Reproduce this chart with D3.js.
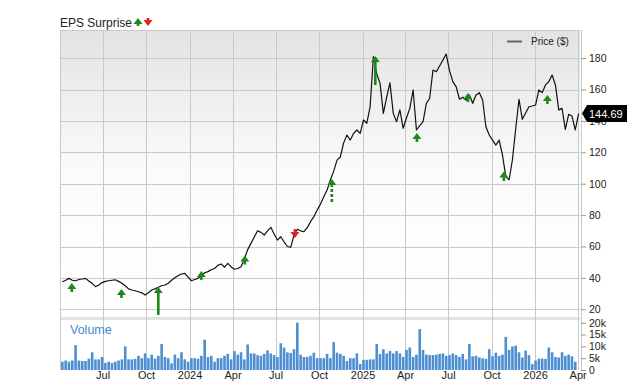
<!DOCTYPE html>
<html>
<head>
<meta charset="utf-8">
<script src="https://cdn.jsdelivr.net/npm/d3@7"></script>
<style>
  body { margin: 0; background: #fff; }
  svg { display: block; font-family: "Liberation Sans", Arial, sans-serif; }
</style>
</head>
<body>
<svg id="frame" width="640" height="382"></svg>
<script>
// weekly closes, first week ending 2023-04-07
const priceStart = "2023-04-07";
const prices = [
  37.5, 38.5, 39.7, 38.5, 38.2, 39, 39.3, 39.7, 38, 36.5, 34.4, 35.5, 37,
  37.8, 38.2, 38.5, 38.8, 37.8, 36.6, 35, 33, 32.3, 31.8, 31.2, 30.5, 29.1,
  30.5, 32.3, 33, 34, 35, 35.5, 36.6, 38.5, 40.1, 41.5, 42.5, 42.9, 40.5,
  38.2, 39, 39.7, 41.5, 43.3, 44, 45.2, 46, 48, 48.9, 46.8, 49.3, 47,
  45.5, 46, 47.1, 52, 58, 62, 66, 70, 69, 67.3, 70, 72.2, 68,
  64.1, 66.2, 63, 60, 59.5, 67.3, 71, 70, 69.4, 72, 75.8, 79, 83.2,
  87, 91.7, 96, 102.4, 108, 115, 117, 126, 131, 127.8, 132, 134.2, 132.1,
  140.6, 138.5, 149, 181, 170, 163.9, 144.8, 155, 164.3, 144.8, 139.5, 147, 135.3,
  142, 148, 159.7, 134.2, 137, 139.5, 151.2, 154.4, 172.4, 171.3, 175, 178.8, 182.6,
  172, 165, 161.8, 153.8, 155.1, 153.3, 156.5, 151.2, 156.5, 158, 153.3, 136.3, 131,
  127.8, 124.6, 127.8, 118.3, 104.5, 102.4, 115.1, 135, 153.8, 141, 145, 149, 149.5,
  150.1, 159.7, 158, 162.9, 165, 169.2, 162.9, 147, 148, 134.6, 144.2, 143.1, 134.2,
  144.69
];

// weekly volume, thousands
const volumeStart = "2023-04-07";
const volumes = [
  3.5, 4, 3.5, 4, 10.5, 4, 3.8, 3.8, 4.8, 7.5, 4.5, 4.5, 5.5,
  3, 3.5, 3, 3.5, 4, 4.5, 10, 4.5, 4.5, 4.7, 6, 5, 7,
  5, 6.5, 4.8, 6, 11, 5.5, 5, 2.8, 6.5, 5, 7.5, 4.5, 3.5,
  5, 5, 4.8, 6, 12.8, 5.5, 6, 3.5, 5, 5, 6, 6.8, 4.5,
  8, 6.5, 7.5, 4.5, 10.8, 7, 7, 6.3, 6, 6.8, 8.3, 7, 6.3,
  5.5, 11.3, 9.5, 7.5, 7.2, 8.8, 20, 6.5, 5.5, 5.5, 6, 7.3, 5,
  5, 5, 6.8, 5, 11.8, 7.3, 6.8, 6, 3.8, 5, 5, 7, 2.5,
  4.3, 4.3, 4.5, 4.5, 11, 6.8, 8.8, 7, 8, 7, 8, 7, 5.5,
  8.5, 9.5, 5.5, 6.5, 17.3, 8.5, 6.5, 6.3, 6.3, 6.5, 6.8, 7, 6,
  6.3, 7, 6.3, 5.5, 6.8, 4.5, 11, 5.8, 6, 5.3, 5, 4.7, 8.8,
  5.8, 7.3, 6, 6.5, 14, 8.5, 10, 10.3, 7.5, 5.3, 8.2, 6.3, 2.5,
  4, 4.8, 4.8, 4.7, 9.5, 7.5, 5.5, 5.3, 7.5, 6, 6.5, 5.8, 3.5
];

// EPS surprises: arrow tip and tail in price units
const surpriseDates = ["2023-04-27", "2023-08-10", "2023-10-27", "2024-01-26", "2024-04-27", "2024-08-11",
  "2024-10-28", "2025-01-28", "2025-04-26", "2025-08-12", "2025-10-27", "2026-01-27"];
const surpriseTip  = [36.8, 32.9, 34.2, 44.4, 54.3, 65.4, 103, 181.3, 132.3, 157.8, 107.8, 156.5];
const surpriseTail = [31.0, 27.2, 16.4, 38.7, 48.5, 71.1, 88.4, 162.8, 126.6, 152, 101.7, 150.8];
const surpriseType = ["up", "up", "up", "up", "up", "down", "up", "up", "up", "up", "up", "up"];
const surpriseDashed = [false, false, false, false, false, false, true, false, false, false, false, false];

const priceTicks = [20, 40, 60, 80, 100, 120, 140, 160, 180];
const volumeTicks = [0, 5, 10, 15, 20];
const lastPrice = 144.69;

const config = { left: 60, right: 580, priceTop: 30, priceBottom: 317, volTop: 320, volBottom: 370 };

const parse = d3.utcParse("%Y-%m-%d");
const day = 864e5;
const priceData = prices.map((p, i) => ({ date: new Date(+parse(priceStart) + i * 7 * day), price: p }));
const volumeData = volumes.map((v, i) => ({ date: new Date(+parse(volumeStart) + i * 7 * day), vol: v }));
const surprises = surpriseDates.map((d, i) => ({
  date: parse(d), tip: surpriseTip[i], tail: surpriseTail[i], type: surpriseType[i], dashed: surpriseDashed[i]
}));

const x = d3.scaleUtc()
  .domain([parse("2023-04-02"), parse("2026-04-06")])
  .range([config.left, config.right]);
const y = d3.scaleLinear().domain([20, 180]).range([309.3, 58.1]);
const yv = d3.scaleLinear().domain([0, 20]).range([config.volBottom, 322.7]);

const svg = d3.select("#frame");

// background gradient of the price panel
const grad = svg.append("defs").append("linearGradient")
  .attr("id", "bg").attr("x1", 0).attr("x2", 0).attr("y1", 0).attr("y2", 1);
grad.append("stop").attr("offset", 0).attr("stop-color", "#e3e3e3");
grad.append("stop").attr("offset", 0.5).attr("stop-color", "#fbfbfb");
grad.append("stop").attr("offset", 1).attr("stop-color", "#ffffff");

svg.append("rect")
  .attr("x", config.left).attr("y", config.priceTop)
  .attr("width", config.right - config.left).attr("height", config.priceBottom - config.priceTop)
  .attr("fill", "url(#bg)");

// separator band
svg.append("rect")
  .attr("x", config.left).attr("y", config.priceBottom)
  .attr("width", config.right - config.left).attr("height", 3)
  .attr("fill", "#e2e2e2");

const quarterTicks = d3.utcMonth.every(3).range(parse("2023-07-01"), parse("2026-04-02"));

// grid
const grid = svg.append("g").attr("stroke", "#c9c9c9").attr("stroke-width", 1);
grid.selectAll("line.h").data(priceTicks).join("line").classed("h", true)
  .attr("x1", config.left).attr("x2", config.right)
  .attr("y1", d => Math.round(y(d)) + 0.5).attr("y2", d => Math.round(y(d)) + 0.5);
grid.selectAll("line.v").data(quarterTicks).join("line").classed("v", true)
  .attr("x1", d => Math.round(x(d)) + 0.5).attr("x2", d => Math.round(x(d)) + 0.5)
  .attr("y1", config.priceTop).attr("y2", config.volBottom);
grid.append("line")
  .attr("x1", config.left + 0.5).attr("x2", config.left + 0.5)
  .attr("y1", config.priceTop).attr("y2", config.volBottom);
grid.append("line")
  .attr("x1", config.left).attr("x2", config.right)
  .attr("y1", config.priceTop + 0.5).attr("y2", config.priceTop + 0.5);
grid.append("line")
  .attr("x1", config.right + 1.5).attr("x2", config.right + 1.5)
  .attr("y1", config.priceTop).attr("y2", config.volBottom);

// volume bars
svg.append("g").selectAll("rect").data(volumeData).join("rect")
  .attr("x", d => x(d.date) - 1.3)
  .attr("width", 2.6)
  .attr("y", d => yv(d.vol))
  .attr("height", d => yv(0) - yv(d.vol))
  .attr("fill", "#4d8fd1");

svg.append("text")
  .attr("x", 70).attr("y", 334)
  .attr("fill", "#3f88cc").attr("font-size", 12.5)
  .text("Volume");

// price line
const line = d3.line().x(d => x(d.date)).y(d => y(d.price));
svg.append("path").datum(priceData)
  .attr("d", line)
  .attr("fill", "none").attr("stroke", "#111").attr("stroke-width", 1.2)
  .attr("stroke-linejoin", "round");

// EPS surprise arrows
function arrow(g, cx, tipY, tailY, dir, color, dashed) {
  const s = dir === "up" ? 1 : -1;
  g.append("line")
    .attr("x1", cx).attr("x2", cx)
    .attr("y1", tipY + s * 5).attr("y2", tailY)
    .attr("stroke", color).attr("stroke-width", 2.6)
    .attr("stroke-dasharray", dashed ? "3,2" : null);
  g.append("path")
    .attr("d", `M${cx},${tipY} L${cx + 4.5},${tipY + s * 6} L${cx - 4.5},${tipY + s * 6} Z`)
    .attr("fill", color);
}
const eps = svg.append("g");
surprises.forEach(d => {
  arrow(eps, x(d.date), y(d.tip), y(d.tail), d.type,
    d.type === "up" ? "#1a8a1a" : "#ee1c1c", d.dashed);
});

// right axes
const axisP = svg.append("g")
  .attr("transform", `translate(${config.right + 1},0)`)
  .call(d3.axisRight(y).tickValues(priceTicks).tickSize(5).tickPadding(3));
const axisV = svg.append("g")
  .attr("transform", `translate(${config.right + 1},0)`)
  .call(d3.axisRight(yv).tickValues(volumeTicks).tickSize(5).tickPadding(3)
    .tickFormat(d => d === 0 ? "0" : d + "k"));
[axisP, axisV].forEach(a => {
  a.select(".domain").remove();
  a.selectAll("line").attr("stroke", "#999");
  a.selectAll("text").attr("fill", "#222").attr("font-size", 10.5)
    .attr("font-family", "'Liberation Sans', Arial, sans-serif");
});

// x axis
const axisX = svg.append("g")
  .attr("transform", `translate(0,${config.volBottom})`)
  .call(d3.axisBottom(x).tickValues(quarterTicks).tickSize(0).tickPadding(1)
    .tickFormat(d => d.getUTCMonth() === 0 ? d3.utcFormat("%Y")(d) : d3.utcFormat("%b")(d)));
axisX.select(".domain").remove();
axisX.selectAll("text").attr("fill", "#222").attr("font-size", 11)
  .attr("font-family", "'Liberation Sans', Arial, sans-serif");

// last price box
const ly = y(lastPrice);
svg.append("path")
  .attr("d", `M${config.right + 2},${ly} L${config.right + 7},${ly - 8.5} L${config.right + 47},${ly - 8.5} L${config.right + 47},${ly + 8.5} L${config.right + 7},${ly + 8.5} Z`)
  .attr("fill", "#000");
svg.append("text")
  .attr("x", config.right + 9).attr("y", ly + 4)
  .attr("fill", "#fff").attr("font-size", 11)
  .text(d3.format(".2f")(lastPrice));

// legend
svg.append("line")
  .attr("x1", 507).attr("x2", 522).attr("y1", 41.5).attr("y2", 41.5)
  .attr("stroke", "#666").attr("stroke-width", 2);
svg.append("text")
  .attr("x", 531).attr("y", 45).attr("font-size", 10).attr("fill", "#222")
  .text("Price ($)");

// title
svg.append("text")
  .attr("x", 60).attr("y", 27).attr("font-size", 12).attr("fill", "#222")
  .text("EPS Surprise");
arrow(svg.append("g"), 138, 18, 26, "up", "#1a8a1a", false);
arrow(svg.append("g"), 148, 26, 18, "down", "#ee1c1c", false);
</script>
</body>
</html>
